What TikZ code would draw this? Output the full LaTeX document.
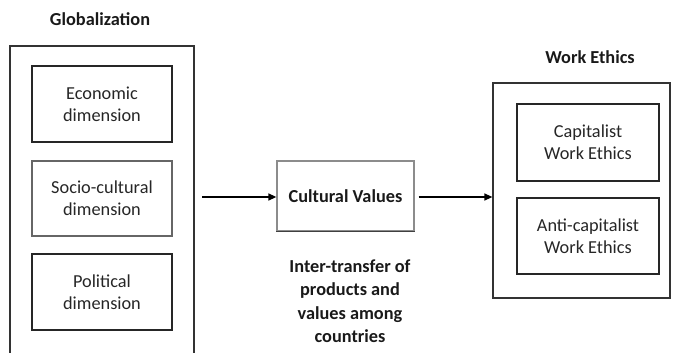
\documentclass[tikz,border=0pt]{standalone}
\usepackage{fontspec}
\setmainfont{Carlito}
\usetikzlibrary{arrows.meta}
\begin{document}
\begin{tikzpicture}[x=1pt,y=-1pt,
  outerbox/.style={draw=black!80,line width=1.2pt},
  innerbox/.style={draw=black!85,line width=1.6pt,align=center,font=\fontsize{18.3}{22}\selectfont,text=black!85},
  title/.style={font=\fontsize{18.3}{22}\selectfont\bfseries,text=black!90},
  conn/.style={line width=1.3pt,-{Triangle[length=8pt,width=7pt]}}]
\useasboundingbox (0,0) rectangle (673,353);
% Globalization
\node[title] (gtitle) at (100,19) {Globalization};
\draw[outerbox] (10,360) -- (10,46) -- (194,46) -- (194,360);
\node[innerbox,minimum width=140pt,minimum height=76pt] (econ) at (102,104) {Economic\\dimension};
\node[innerbox,minimum width=140pt,minimum height=75pt,draw=black!60] (socio) at (102,198.5) {Socio-cultural\\dimension};
\node[innerbox,minimum width=140pt,minimum height=76pt] (pol) at (102,292) {Political\\dimension};
% Cultural values
\node[draw=black!45,line width=1.3pt,minimum width=137pt,minimum height=70pt,font=\fontsize{18.3}{22}\selectfont\bfseries,text=black!90] (cv) at (345.5,196) {Cultural Values};
\draw[black!75,line width=1.5pt] (cv.south west) -- (cv.south east);
\node[align=center,font=\fontsize{18.3}{23.5}\selectfont\bfseries,text=black!90] (inter) at (350,301) {Inter-transfer of\\products and\\values among\\countries};
% Work ethics
\node[title] (wtitle) at (590,57) {Work Ethics};
\node[outerbox,minimum width=177pt,minimum height=215pt] (we) at (581.5,190.5) {};
\node[innerbox,minimum width=142pt,minimum height=77pt] (cap) at (588,142.5) {Capitalist\\Work Ethics};
\node[innerbox,minimum width=142pt,minimum height=76pt] (anti) at (588,236) {Anti-capitalist\\Work Ethics};
% connectors
\coordinate (a1s) at (202,197);
\draw[conn] (a1s) -- (cv.west|-a1s);
\draw[conn] (cv.east|-a1s) ++(4,0) -- (we.west|-a1s);
\end{tikzpicture}
\end{document}
